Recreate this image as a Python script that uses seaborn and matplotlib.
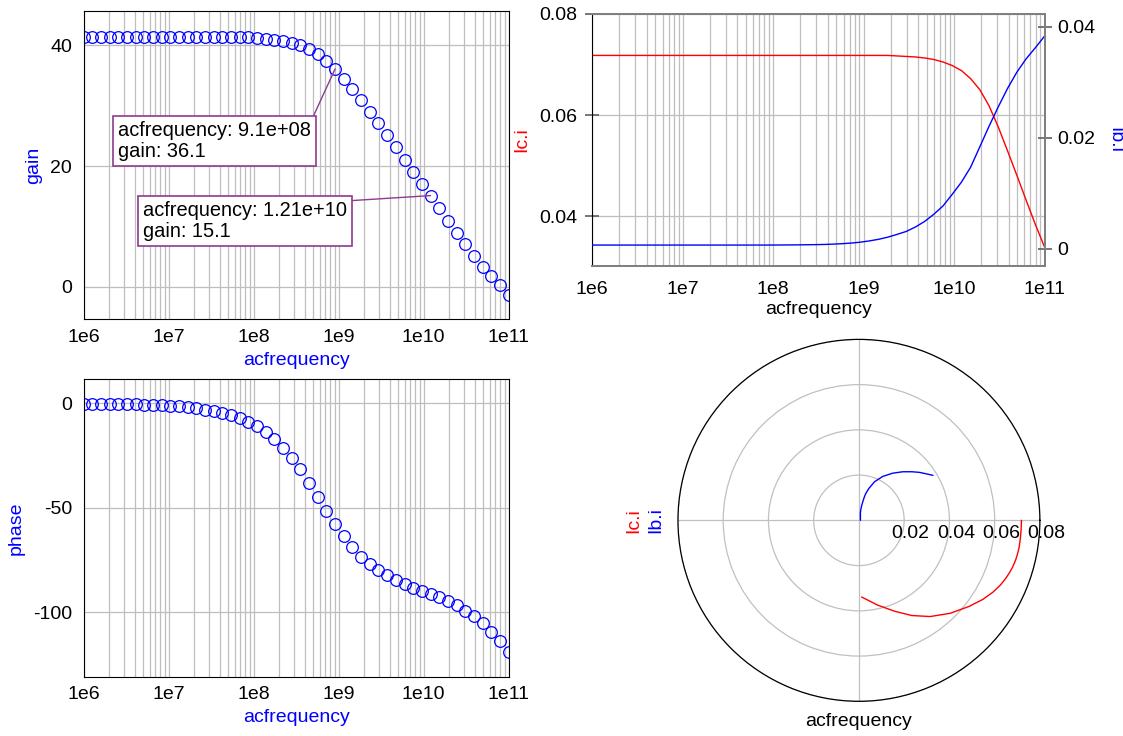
import numpy as np
import pandas as pd
import matplotlib
matplotlib.use('Agg')
import matplotlib.pyplot as plt
import seaborn as sns
from matplotlib.ticker import LogLocator, NullFormatter
from matplotlib.transforms import ScaledTranslation

# AC sweep, 50 points from 1e6 to 1e11
acfrequency = [1.000e6, 1.265e6, 1.600e6, 2.024e6, 2.560e6, 3.237e6, 4.095e6, 5.179e6, 6.551e6, 8.286e6,
               1.048e7, 1.326e7, 1.677e7, 2.121e7, 2.683e7, 3.393e7, 4.292e7, 5.429e7, 6.866e7, 8.685e7,
               1.099e8, 1.389e8, 1.758e8, 2.223e8, 2.812e8, 3.556e8, 4.498e8, 5.690e8, 7.197e8, 9.103e8,
               1.151e9, 1.456e9, 1.842e9, 2.330e9, 2.947e9, 3.728e9, 4.715e9, 5.964e9, 7.543e9, 9.541e9,
               1.207e10, 1.526e10, 1.931e10, 2.442e10, 3.089e10, 3.907e10, 4.942e10, 6.251e10, 7.906e10, 1.000e11]

gain = [41.4, 41.4, 41.4, 41.4, 41.4, 41.4, 41.4, 41.4, 41.4, 41.4,
        41.4, 41.4, 41.4, 41.4, 41.4, 41.4, 41.4, 41.4, 41.4, 41.35,
        41.25, 41.1, 40.95, 40.7, 40.4, 40.0, 39.4, 38.5, 37.4, 36.1,
        34.5, 32.8, 30.9, 29.0, 27.1, 25.1, 23.1, 21.0, 19.0, 17.0,
        15.1, 13.0, 10.9, 8.95, 7.0, 5.1, 3.3, 1.7, 0.2, -1.3]

phase = [-0.1, -0.15, -0.2, -0.25, -0.3, -0.4, -0.5, -0.6, -0.8, -1.0,
         -1.2, -1.5, -1.9, -2.4, -3.0, -3.8, -4.7, -5.8, -7.2, -8.8,
         -10.9, -13.6, -17.0, -21.2, -26.0, -31.6, -37.9, -44.8, -51.7, -57.9,
         -63.6, -68.9, -73.4, -76.9, -79.7, -82.3, -84.6, -86.6, -88.3, -89.8,
         -91.3, -92.8, -94.6, -96.7, -99.2, -101.9, -105.3, -109.3, -113.9, -119.1]

# collector / base current: magnitude and phase (deg)
ic_mag = [0.0718] * 33 + [0.0717, 0.0716, 0.0715, 0.0713, 0.0710, 0.0705, 0.0698,
                          0.0688, 0.0672, 0.0650, 0.0618, 0.0576, 0.0529, 0.0481, 0.0432, 0.0384, 0.0339]
ic_phase = [0.0, 0.0, 0.0, -0.1, -0.1, -0.1, -0.1, -0.1, -0.2, -0.2,
            -0.3, -0.3, -0.4, -0.5, -0.6, -0.7, -0.9, -1.1, -1.4, -1.7,
            -2.0, -2.3, -2.7, -3.1, -3.6, -4.1, -4.7, -5.4, -6.2, -7.0,
            -7.9, -8.9, -10.0, -11.2, -12.5, -13.8, -15.2, -17.0, -19.0, -21.5,
            -24.5, -28.2, -32.5, -38.0, -45.5, -53.5, -61.0, -68.5, -77.5, -88.0]
ib_mag = [0.00066] * 20 + [0.00067, 0.00068, 0.00069, 0.00071, 0.00073, 0.00076, 0.00082, 0.00090, 0.00101, 0.00117,
                           0.0014, 0.00169, 0.00207, 0.00257, 0.0031, 0.0039, 0.0049, 0.0062, 0.0077, 0.0098,
                           0.0120, 0.0147, 0.0184, 0.0221, 0.0256, 0.0289, 0.0318, 0.0342, 0.0362, 0.0383]
ib_phase = [0.1, 0.1, 0.15, 0.2, 0.25, 0.3, 0.4, 0.5, 0.65, 0.8,
            1.0, 1.3, 1.6, 2.0, 2.5, 3.2, 4.0, 5.1, 6.4, 8.1,
            10.1, 12.6, 15.8, 19.6, 24.4, 29.9, 36.0, 42.6, 49.3, 55.8,
            61.8, 67.0, 71.5, 75.2, 78.0, 79.5, 80.0, 79.6, 78.7, 77.5,
            76.0, 72.8, 68.0, 61.5, 54.5, 48.0, 42.5, 38.3, 34.6, 31.3]

decade_ticks = [1e6, 1e7, 1e8, 1e9, 1e10, 1e11]
decade_labels = ['1e6', '1e7', '1e8', '1e9', '1e10', '1e11']
ring_ticks = [0.02, 0.04, 0.06, 0.08]
ring_labels = ['0.02', '0.04', '0.06', '0.08']

df = pd.DataFrame({'acfrequency': acfrequency, 'gain': gain, 'phase': phase,
                   'ic_mag': ic_mag, 'ic_phase': ic_phase, 'ib_mag': ib_mag, 'ib_phase': ib_phase})
df['ic_theta'] = np.deg2rad(df['ic_phase'])
df['ib_theta'] = np.deg2rad(df['ib_phase'])

sns.set_style('white')
plt.rcParams['font.family'] = ['Liberation Sans', 'DejaVu Sans']
plt.rcParams['font.size'] = 14
plt.rcParams['axes.unicode_minus'] = False
plt.rcParams['text.color'] = 'black'
plt.rcParams['axes.labelcolor'] = 'black'
plt.rcParams['xtick.color'] = 'black'
plt.rcParams['ytick.color'] = 'black'

GRID = '#bebebe'
PURPLE = '#8e3a8e'

fig = plt.figure(figsize=(11.23, 7.36), dpi=100)


def log_x(ax):
    ax.set_xscale('log')
    ax.set_xlim(1e6, 1e11)
    ax.set_xticks(decade_ticks)
    ax.set_xticklabels(decade_labels)
    ax.xaxis.set_minor_locator(LogLocator(base=10, subs=np.arange(2, 10)))
    ax.xaxis.set_minor_formatter(NullFormatter())
    ax.tick_params(axis='x', which='minor', length=0)
    ax.grid(True, which='both', axis='x', color=GRID, lw=0.9)
    ax.grid(True, which='major', axis='y', color=GRID, lw=0.9)
    ax.set_axisbelow(True)


def marker_plot(ax, col):
    log_x(ax)
    sns.lineplot(data=df, x='acfrequency', y=col, ax=ax, color='blue', marker='o', linestyle='none',
                 markerfacecolor='none', markeredgecolor='blue', markersize=8.4, markeredgewidth=0.9)
    for s in ax.spines.values():
        s.set_color('black')
        s.set_linewidth(0.8)
    ax.tick_params(axis='x', which='major', direction='in', length=5, width=0.8, pad=7, color='black')
    ax.tick_params(axis='y', which='major', direction='inout', length=10.5, width=0.8, pad=3, color='black')


# gain
ax_g = fig.add_axes([0.0744, 0.5662, 0.3785, 0.4189])
marker_plot(ax_g, 'gain')
ax_g.set_ylim(-5.4, 45.7)
ax_g.set_yticks([0, 20, 40])
ax_g.set_xlabel('acfrequency', color='blue', fontsize=14, labelpad=4)
ax_g.set_ylabel('gain', color='blue', fontsize=14, labelpad=6)

for k, pos in [(29, (0.082, 0.644)), (40, (0.140, 0.384))]:
    txt = 'acfrequency: {:.3g}\ngain: {:.1f}'.format(acfrequency[k], gain[k])
    ax_g.annotate(txt, xy=(acfrequency[k], gain[k]), xytext=pos, textcoords='axes fraction',
                  ha='left', va='top', fontsize=14.4, linespacing=1.15, color='black',
                  bbox=dict(boxstyle='square,pad=0.25', fc='white', ec=PURPLE, lw=1.2),
                  arrowprops=dict(arrowstyle='-', color=PURPLE, lw=1.0, relpos=(1, 1),
                                  shrinkA=0, shrinkB=0))

# phase
ax_p = fig.add_axes([0.0744, 0.0806, 0.3785, 0.4041])
marker_plot(ax_p, 'phase')
ax_p.set_ylim(-130.8, 11.5)
ax_p.set_yticks([-100, -50, 0])
ax_p.set_xlabel('acfrequency', color='blue', fontsize=14, labelpad=4)
ax_p.set_ylabel('phase', color='blue', fontsize=14, labelpad=6)

# currents vs frequency
ax_c = fig.add_axes([0.5274, 0.6390, 0.4027, 0.3420])
log_x(ax_c)
ax_b = ax_c.twinx()
sns.lineplot(data=df, x='acfrequency', y='ic_mag', ax=ax_c, color='red', lw=1.0)
sns.lineplot(data=df, x='acfrequency', y='ib_mag', ax=ax_b, color='blue', lw=1.0)
ax_c.set_ylim(0.0302, 0.08)
ax_c.set_yticks([0.04, 0.06, 0.08])
ax_c.set_yticklabels(['0.04', '0.06', '0.08'])
ax_b.set_ylim(-0.00306, 0.0423)
ax_b.set_yticks([0, 0.02, 0.04])
ax_b.set_yticklabels(['0', '0.02', '0.04'])
ax_c.set_xlabel('acfrequency', color='black', fontsize=14, labelpad=2)
ax_c.set_ylabel('Ic.i', color='red', fontsize=14, labelpad=6)
ax_b.set_ylabel('Ib.i', color='blue', fontsize=14, rotation=270, labelpad=20)
for a in (ax_c, ax_b):
    for s in a.spines.values():
        s.set_color('#808080')
        s.set_linewidth(1.4)
ax_c.spines['left'].set_color('black')
ax_c.spines['left'].set_linewidth(0.8)
ax_b.spines['left'].set_visible(False)
ax_c.tick_params(axis='both', which='major', direction='inout', length=10, width=1.2, color='#606060', pad=6)
ax_b.tick_params(axis='y', which='major', direction='inout', length=10, width=1.2, color='#606060', pad=4)

# polar view of the currents
ax_r = fig.add_axes([0.6037, 0.0471, 0.3223, 0.4918], projection='polar')
sns.lineplot(data=df, x='ic_theta', y='ic_mag', ax=ax_r, color='red', lw=1.0, sort=False)
sns.lineplot(data=df, x='ib_theta', y='ib_mag', ax=ax_r, color='blue', lw=1.0, sort=False)
ax_r.set_ylim(0, 0.08)
ax_r.set_yticks(ring_ticks)
ax_r.set_yticklabels([])
ax_r.set_xticks(np.deg2rad([0, 90, 180, 270]))
ax_r.set_xticklabels([])
ax_r.grid(True, color='#c0c0c0', lw=0.9)
ax_r.spines['polar'].set_color('black')
ax_r.spines['polar'].set_linewidth(0.9)
ax_r.set_xlabel('')
ax_r.set_ylabel('')
# ring labels sit just under the 0 degree spoke
ring_off = ax_r.transData + ScaledTranslation(0.065, -0.05, fig.dpi_scale_trans)
for r, lab in zip(ring_ticks, ring_labels):
    ax_r.text(0, r, lab, transform=ring_off, ha='center', va='top', fontsize=14, color='black')
ax_r.text(-0.123, 0.5, 'Ic.i', color='red', fontsize=14, rotation=90, ha='center', va='center',
          transform=ax_r.transAxes)
ax_r.text(-0.061, 0.5, 'Ib.i', color='blue', fontsize=14, rotation=90, ha='center', va='center',
          transform=ax_r.transAxes)
ax_r.text(0.5, -0.056, 'acfrequency', color='black', fontsize=14, ha='center', va='center',
          transform=ax_r.transAxes)

plt.savefig('out.png', dpi=100)
